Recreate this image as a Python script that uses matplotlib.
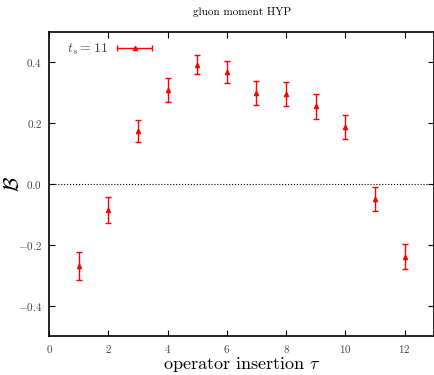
import matplotlib
matplotlib.use("Agg")
import matplotlib.pyplot as plt
from matplotlib.legend_handler import HandlerErrorbar
import numpy as np

plt.rcParams["font.family"] = "serif"
plt.rcParams["font.serif"] = ["cmr10"]
plt.rcParams["mathtext.fontset"] = "cm"
plt.rcParams["axes.formatter.use_mathtext"] = True

# --- data ---
tau = [1, 2, 3, 4, 5, 6, 7, 8, 9, 10, 11, 12]
B = [-0.270, -0.085, 0.174, 0.309, 0.392, 0.367, 0.300, 0.296, 0.256, 0.187, -0.050, -0.239]
B_err = [0.047, 0.043, 0.036, 0.038, 0.031, 0.036, 0.039, 0.039, 0.041, 0.039, 0.039, 0.041]

fig = plt.figure(figsize=(4.35, 3.75), dpi=100)
ax = fig.add_axes([0.113, 0.104, 0.885, 0.811])

ax.axhline(0, color="black", linestyle=":", linewidth=0.8)
ax.errorbar(tau, B, yerr=B_err, fmt="^", color="red", markersize=3,
            elinewidth=1.0, capsize=2, capthick=1.0)

# legend sample is drawn as a horizontal error bar
proxy = ax.errorbar([np.nan], [np.nan], xerr=[1], fmt="^", color="red",
                    markersize=3, elinewidth=1.0, capsize=2, capthick=1.0)

ax.set_xlim(0, 13)
ax.set_ylim(-0.5, 0.5)
ax.set_xticks([0, 2, 4, 6, 8, 10, 12])
ax.set_yticks([-0.4, -0.2, 0, 0.2, 0.4])

ax.tick_params(direction="in", top=True, right=True, length=4, width=0.8,
               labelsize=8, labelcolor="#444444", pad=5)
for s in ax.spines.values():
    s.set_linewidth(1.2)

ax.set_title("gluon moment HYP", fontsize=8, pad=12)
ax.set_xlabel(r"operator insertion $\tau$", fontsize=13, labelpad=0)
ax.set_ylabel(r"$\mathcal{B}$", fontsize=15, rotation=90)
ax.yaxis.set_label_coords(-0.068, 0.5)

leg = ax.legend([proxy], [r"$t_s = 11$"], loc="upper left", frameon=False,
                fontsize=10, markerfirst=False, handlelength=2.6,
                handletextpad=0.6, borderaxespad=0.3,
                bbox_to_anchor=(0.022, 1.0),
                handler_map={type(proxy): HandlerErrorbar(xerr_size=1.25)})
for t in leg.get_texts():
    t.set_color("#444444")

fig.savefig("out.png", dpi=100)
